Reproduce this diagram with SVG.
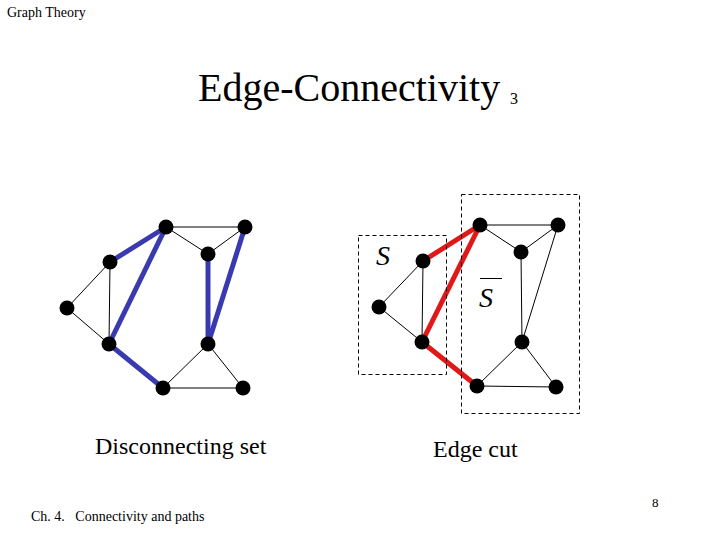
<svg xmlns="http://www.w3.org/2000/svg" width="720" height="540" viewBox="0 0 720 540">
<style>
text{font-family:"Liberation Serif","Times New Roman",serif;fill:#000}
.e{stroke:#000;stroke-width:1;fill:none}
.b{stroke:#3a3ab0;stroke-width:5;fill:none}
.r{stroke:#e01818;stroke-width:5;fill:none}
.n{fill:#000}
.box{fill:none;stroke:#000;stroke-width:1;stroke-dasharray:4,3}
</style>
<rect width="720" height="540" fill="#fff"/>
<text x="7" y="17" font-size="14">Graph Theory</text>
<text x="198" y="101" font-size="40">Edge-Connectivity</text>
<text x="510" y="104" font-size="16">3</text>
<g id="connectors">
<line class="e" x1="166" y1="227" x2="245" y2="227"/>
<line class="e" x1="166" y1="227" x2="208" y2="254"/>
<line class="e" x1="245" y1="227" x2="208" y2="254"/>
<line class="e" x1="110" y1="262" x2="67" y2="308"/>
<line class="e" x1="110" y1="262" x2="109" y2="344"/>
<line class="e" x1="67" y1="308" x2="109" y2="344"/>
<line class="e" x1="208" y1="344" x2="163" y2="388"/>
<line class="e" x1="208" y1="344" x2="243" y2="388"/>
<line class="e" x1="163" y1="388" x2="243" y2="388"/>
<line class="b" x1="166" y1="227" x2="110" y2="262"/>
<line class="b" x1="166" y1="227" x2="109" y2="344"/>
<line class="b" x1="109" y1="344" x2="163" y2="388"/>
<line class="b" x1="208" y1="254" x2="208" y2="344"/>
<line class="b" x1="245" y1="227" x2="208" y2="344"/>
<line class="e" x1="480" y1="225" x2="558" y2="225"/>
<line class="e" x1="480" y1="225" x2="521" y2="252"/>
<line class="e" x1="558" y1="225" x2="521" y2="252"/>
<line class="e" x1="521" y1="252" x2="522" y2="342"/>
<line class="e" x1="558" y1="225" x2="522" y2="342"/>
<line class="e" x1="423" y1="261" x2="379" y2="307"/>
<line class="e" x1="423" y1="261" x2="422" y2="342"/>
<line class="e" x1="379" y1="307" x2="422" y2="342"/>
<line class="e" x1="522" y1="342" x2="477" y2="386"/>
<line class="e" x1="522" y1="342" x2="556" y2="387"/>
<line class="e" x1="477" y1="386" x2="556" y2="387"/>
<line class="r" x1="480" y1="225" x2="423" y2="261"/>
<line class="r" x1="480" y1="225" x2="422" y2="342"/>
<line class="r" x1="422" y1="342" x2="477" y2="386"/>
</g>
<g id="left-graph">
<circle id="L1" class="n" cx="166" cy="227" r="7.5"/>
<circle id="L2" class="n" cx="245" cy="227" r="7.5"/>
<circle id="L3" class="n" cx="208" cy="254" r="7.5"/>
<circle id="L4" class="n" cx="110" cy="262" r="7.5"/>
<circle id="L5" class="n" cx="67" cy="308" r="7.5"/>
<circle id="L6" class="n" cx="109" cy="344" r="7.5"/>
<circle id="L7" class="n" cx="208" cy="344" r="7.5"/>
<circle id="L8" class="n" cx="163" cy="388" r="7.5"/>
<circle id="L9" class="n" cx="243" cy="388" r="7.5"/>
</g>
<g id="right-graph">
<rect id="S-box" class="box" x="358.5" y="235.5" width="88" height="139"/>
<rect id="Sbar-box" class="box" x="461.5" y="194.5" width="118" height="219"/>
<circle id="R1" class="n" cx="480" cy="225" r="7.5"/>
<circle id="R2" class="n" cx="558" cy="225" r="7.5"/>
<circle id="R3" class="n" cx="521" cy="252" r="7.5"/>
<circle id="R4" class="n" cx="423" cy="261" r="7.5"/>
<circle id="R5" class="n" cx="379" cy="307" r="7.5"/>
<circle id="R6" class="n" cx="422" cy="342" r="7.5"/>
<circle id="R7" class="n" cx="522" cy="342" r="7.5"/>
<circle id="R8" class="n" cx="477" cy="386" r="7.5"/>
<circle id="R9" class="n" cx="556" cy="387" r="7.5"/>
<text x="376" y="265" font-size="28" font-style="italic">S</text>
<text x="479" y="307" font-size="28" font-style="italic">S</text>
<line x1="480" y1="278.5" x2="502" y2="278.5" stroke="#000" stroke-width="1"/>
</g>
<text x="95" y="454" font-size="24">Disconnecting set</text>
<text x="433" y="457" font-size="24">Edge cut</text>
<text x="31" y="521" font-size="14" xml:space="preserve">Ch. 4.   Connectivity and paths</text>
<text x="652" y="507" font-size="13">8</text>
</svg>
